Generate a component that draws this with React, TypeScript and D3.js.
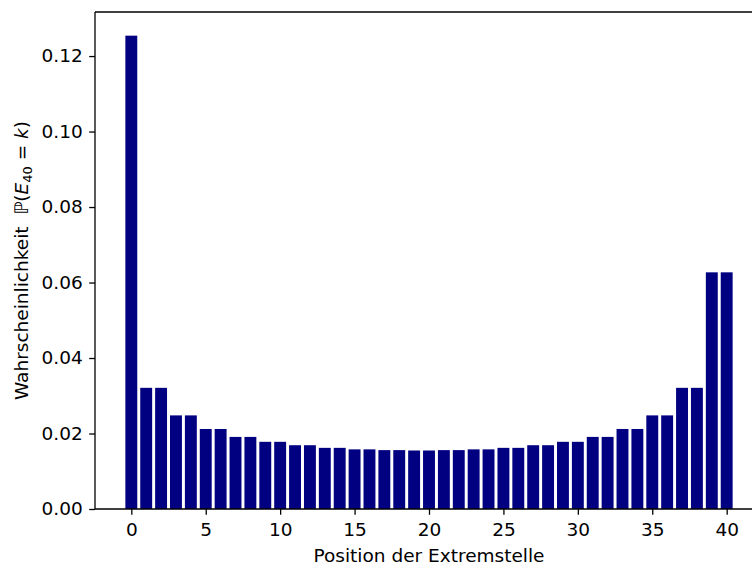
import React, { useEffect, useRef } from "react";
import * as d3 from "d3";

// Positions of the extremum (0..40) and their probabilities
const positions = d3.range(0, 41);
const probabilities = [
  0.1254,
  0.0321, 0.0321, 0.0248, 0.0248, 0.0212, 0.0212, 0.0191, 0.0191,
  0.0178, 0.0178, 0.0169, 0.0169, 0.0162, 0.0162, 0.0158, 0.0158,
  0.0156, 0.0156, 0.0155, 0.0155, 0.0156, 0.0156, 0.0158, 0.0158,
  0.0162, 0.0162, 0.0169, 0.0169, 0.0178, 0.0178, 0.0191, 0.0191,
  0.0212, 0.0212, 0.0248, 0.0248, 0.0321, 0.0321, 0.0627, 0.0627,
];
const xTicks = [0, 5, 10, 15, 20, 25, 30, 35, 40];
const yTicks = [0, 0.02, 0.04, 0.06, 0.08, 0.1, 0.12];

const W = 752;
const H = 565;
const left = 95;
const right = 763;
const top = 12;
const bottom = 509;
const font = "DejaVu Sans, sans-serif";
const fs = "18.5px";

const App = () => {
  const ref = useRef<SVGSVGElement>(null);

  useEffect(() => {
    const svg = d3.select(ref.current);
    svg.selectAll("*").remove();

    const x = d3.scaleLinear().domain([-2.44, 42.44]).range([left, right]);
    const ymax = d3.max(probabilities)! * 1.05;
    const y = d3.scaleLinear().domain([0, ymax]).range([bottom, top]);
    const barW = 0.8;

    svg
      .append("g")
      .selectAll("rect")
      .data(positions)
      .join("rect")
      .attr("x", (d) => x(d - barW / 2))
      .attr("width", x(barW) - x(0))
      .attr("y", (d) => y(probabilities[d]))
      .attr("height", (d) => y(0) - y(probabilities[d]))
      .attr("fill", "#000080");

    const xAxis = svg
      .append("g")
      .attr("transform", `translate(0,${bottom})`)
      .call(
        d3
          .axisBottom(x)
          .tickValues(xTicks)
          .tickSize(5.8)
          .tickPadding(8.5)
          .tickFormat(d3.format("d"))
      );
    const yAxis = svg
      .append("g")
      .attr("transform", `translate(${left},0)`)
      .call(
        d3
          .axisLeft(y)
          .tickValues(yTicks)
          .tickSize(5.8)
          .tickPadding(6.5)
          .tickFormat(d3.format(".2f"))
      );
    [xAxis, yAxis].forEach((g) => {
      g.select(".domain").remove();
      g.selectAll(".tick line").attr("stroke", "#000").attr("stroke-width", 1.3);
      g.selectAll(".tick text")
        .attr("fill", "#000")
        .style("font-family", font)
        .style("font-size", fs);
    });

    // spines
    const spine = svg.append("g").attr("stroke", "#000").attr("stroke-width", 1.3).attr("fill", "none");
    spine.append("line").attr("x1", left).attr("x2", left).attr("y1", top).attr("y2", bottom);
    spine.append("line").attr("x1", left).attr("x2", right).attr("y1", bottom).attr("y2", bottom);
    spine.append("line").attr("x1", left).attr("x2", right).attr("y1", top).attr("y2", top);
    spine.append("line").attr("x1", right).attr("x2", right).attr("y1", top).attr("y2", bottom);

    svg
      .append("text")
      .attr("x", (left + right) / 2)
      .attr("y", 562)
      .attr("text-anchor", "middle")
      .style("font-family", font)
      .style("font-size", fs)
      .text("Position der Extremstelle");

    const yl = svg
      .append("text")
      .attr("transform", `translate(28,${(top + bottom) / 2}) rotate(-90)`)
      .attr("text-anchor", "middle")
      .style("font-family", font)
      .style("font-size", fs);
    yl.append("tspan").text("Wahrscheinlichkeit\u00a0\u00a0\u2119(");
    yl.append("tspan").style("font-style", "italic").text("E");
    yl.append("tspan").attr("dy", 4).style("font-size", "13px").text("40");
    yl.append("tspan").attr("dy", -4).text("\u00a0=\u00a0");
    yl.append("tspan").style("font-style", "italic").text("k");
    yl.append("tspan").text(")");
  }, []);

  return (
    <svg
      ref={ref}
      width={W}
      height={H}
      style={{ position: "absolute", left: 0, top: 0, background: "#fff" }}
    />
  );
};

export default App;
